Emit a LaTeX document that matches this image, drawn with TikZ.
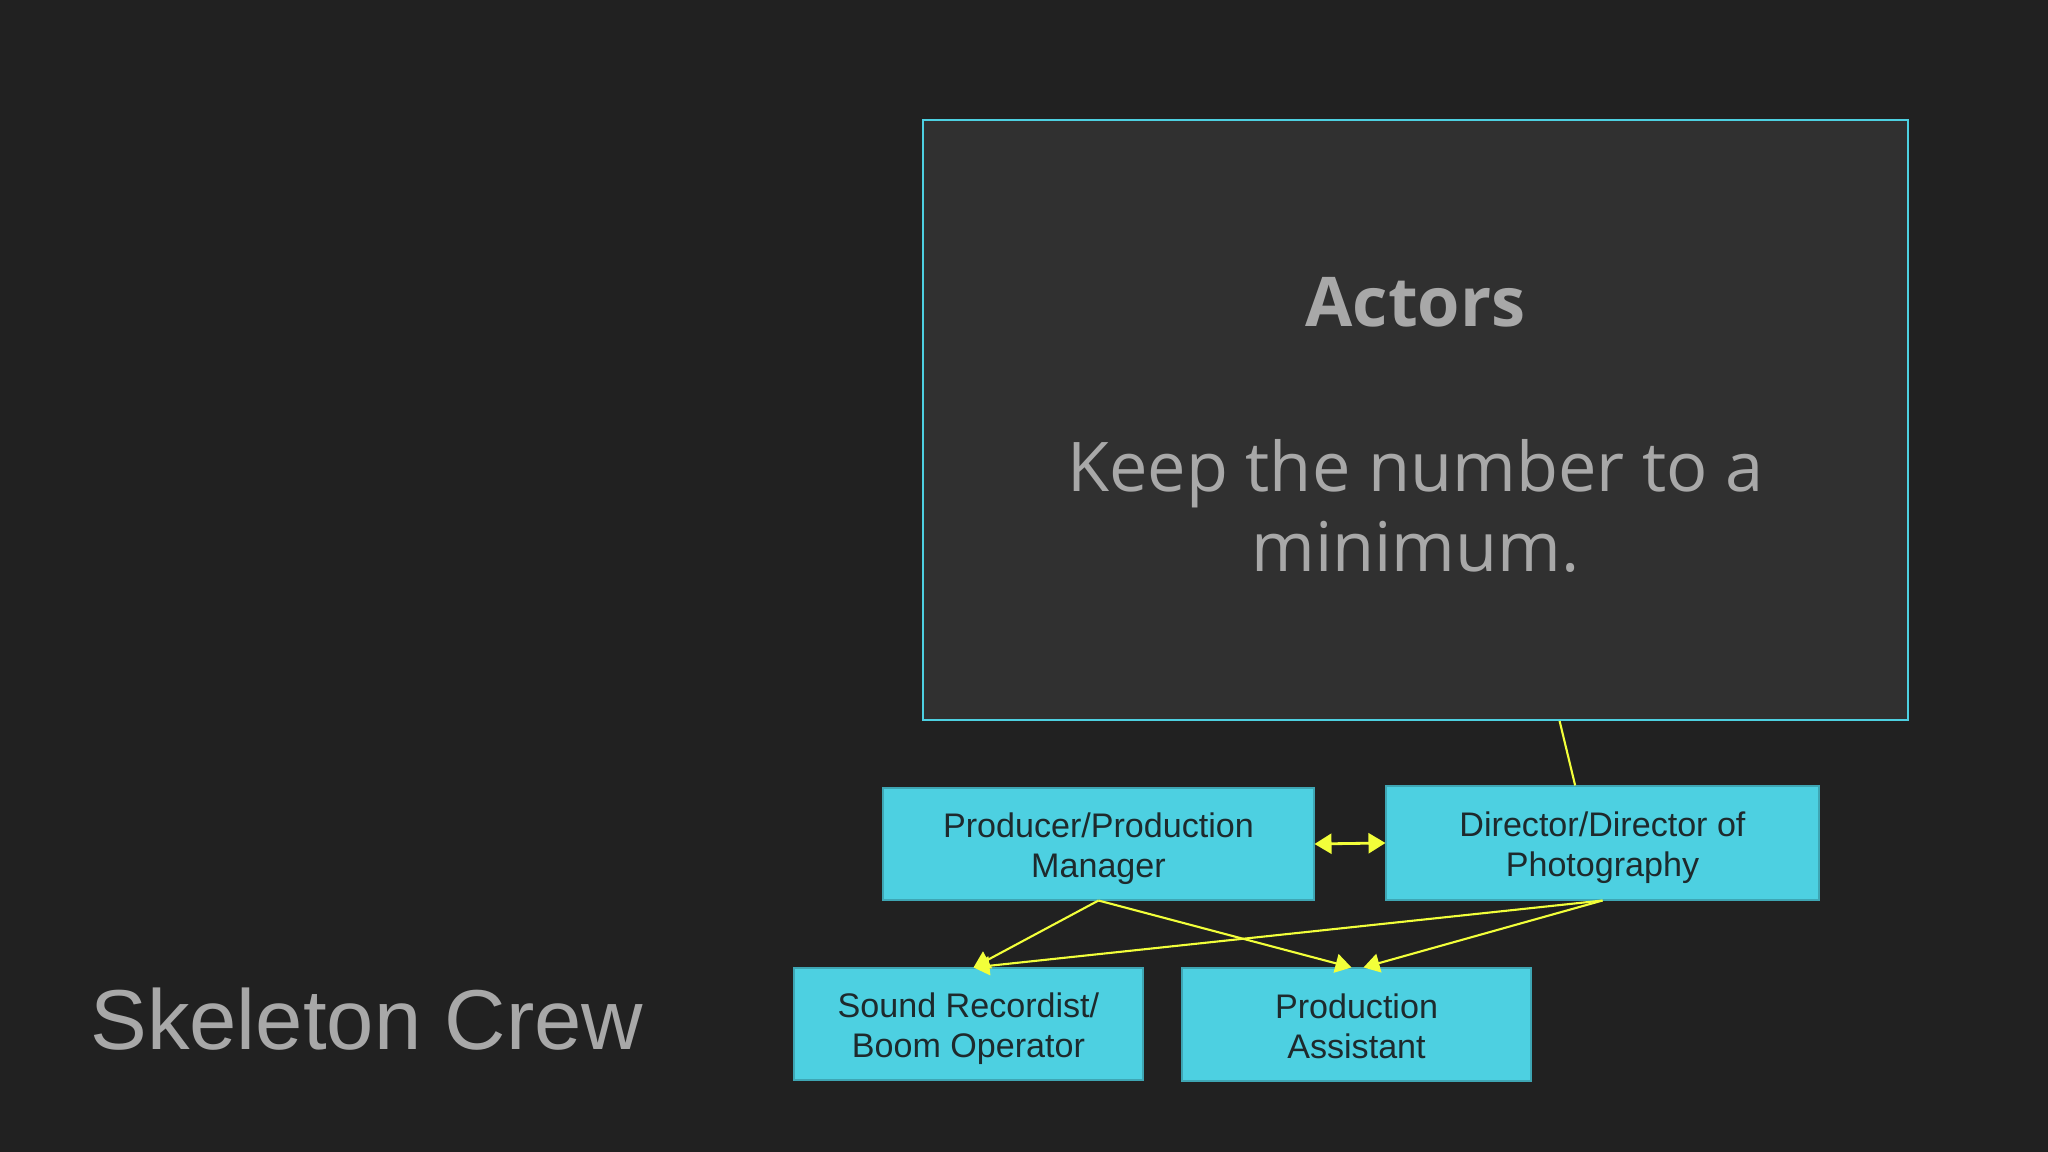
\documentclass[tikz,border=0pt]{standalone}
\usepackage{fontspec}
\setmainfont{Liberation Sans}
\newfontfamily\opensans{Open Sans}
\usetikzlibrary{arrows.meta,calc}

\definecolor{slidebg}{HTML}{212121}
\definecolor{panelbg}{HTML}{303030}
\definecolor{crewcyan}{HTML}{4DD0E1}
\definecolor{crewtext}{HTML}{1E2A2D}
\definecolor{softgray}{HTML}{A8A8A8}
\definecolor{linkyellow}{HTML}{F2FF3A}

\begin{document}
\begin{tikzpicture}[
  x=1cm,
  y=1cm,
  role/.style={
    rectangle,
    fill=crewcyan,
    draw=crewcyan!80!black,
    line width=0.3pt,
    inner sep=0pt,
    align=center,
    text height=20.5pt,
    text depth=1.4pt,
    text=crewtext,
    font=\fontsize{9.7}{11.3}\selectfont
  },
  panel/.style={
    rectangle,
    fill=panelbg,
    draw=crewcyan,
    line width=0.6pt,
    minimum width=9.85cm,
    minimum height=6cm
  },
  link/.style={draw=linkyellow, line width=0.6pt},
  flow/.style={link, -{Triangle[length=1.6mm, width=1.9mm]}},
  both/.style={link, line width=0.8pt, {Triangle[length=1.7mm, width=2mm]}-{Triangle[length=1.7mm, width=2mm]}}
]

\fill[slidebg] (0,0) rectangle (20.48,11.52);
\useasboundingbox (0,0) rectangle (20.48,11.52);

\node[panel] (actors) at (14.155,7.32) {};
\node[text=softgray, font=\opensans\bfseries\fontsize{19.5}{23}\selectfont] (actorstitle)
  at (14.155,8.50) {Actors};
\node[text=softgray, align=center, font=\opensans\fontsize{19.5}{22.8}\selectfont] (actorsnote)
  at (14.155,6.46) {Keep the number to a\\minimum.};

% Crew boxes, top row then bottom row.
\node[role, minimum width=4.31cm, minimum height=1.12cm] (producer) at (10.985,3.08)
  {Producer/Production\\Manager};
\node[role, minimum width=4.33cm, minimum height=1.14cm] (director) at (16.025,3.09)
  {Director/Director of\\Photography};
\node[role, minimum width=3.49cm, minimum height=1.12cm] (sound) at (9.685,1.28)
  {Sound Recordist/\\Boom Operator};
\node[role, minimum width=3.49cm, minimum height=1.13cm] (assistant) at (13.565,1.275)
  {Production\\Assistant};

\draw[link] ($(actors.south west)!0.646!(actors.south east)$)
  -- ($(director.north west)!0.437!(director.north east)$);
\draw[both] (producer.east) -- (director.west);

\draw[flow] (producer.south) -- ($(sound.north)+(0.05,0)$);
\draw[flow] (producer.south) -- ($(assistant.north)+(-0.05,0)$);
\draw[flow] (director.south) -- ($(sound.north)+(0.05,0)$);
\draw[flow] (director.south) -- ($(assistant.north)+(0.07,0)$);

\node[text=softgray, anchor=west, font=\fontsize{24.2}{29}\selectfont] (crewtitle)
  at (0.78,1.33) {Skeleton Crew};

\end{tikzpicture}
\end{document}
